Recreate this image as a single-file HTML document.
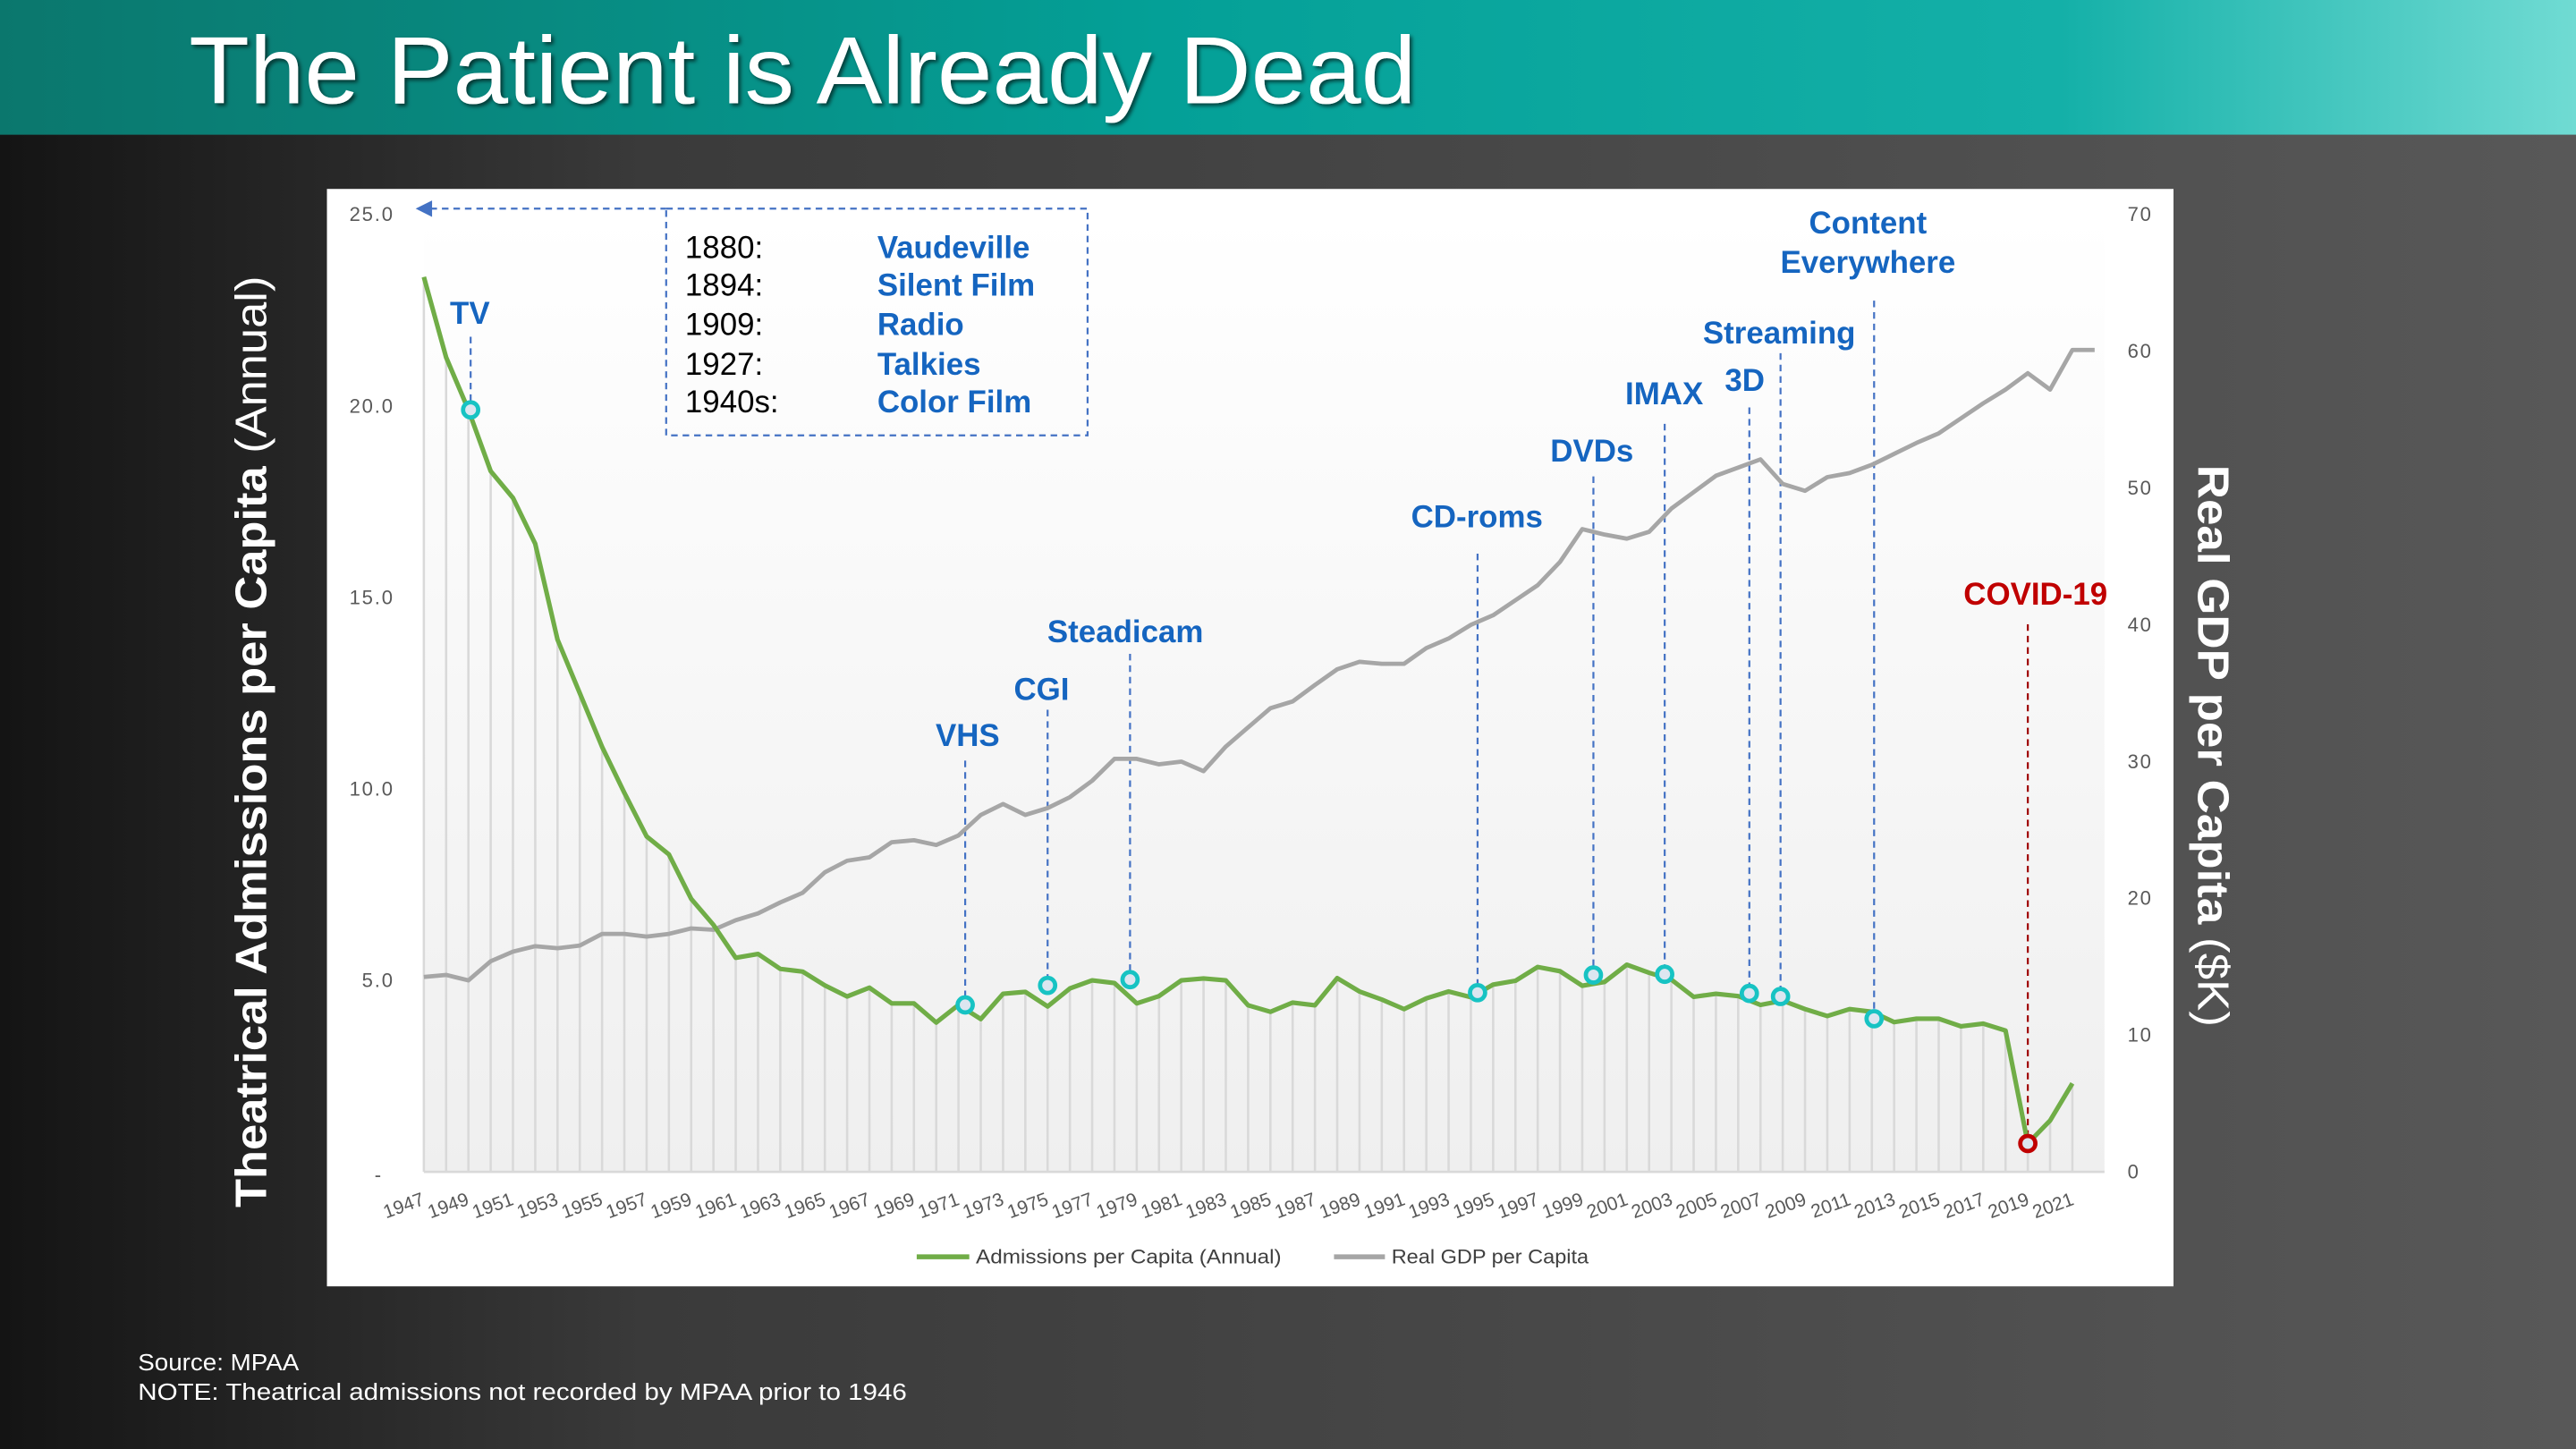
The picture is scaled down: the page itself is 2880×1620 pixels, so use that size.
<!DOCTYPE html>
<html><head><meta charset="utf-8"><style>
html,body{margin:0;padding:0;background:#333;}
svg{display:block;}
</style></head><body>
<svg id="chart" xmlns="http://www.w3.org/2000/svg" width="2880" height="1620" viewBox="0 0 1568 882" font-family="Liberation Sans, Arial, sans-serif">
<defs>
<linearGradient id="hdr" x1="0" x2="1" y1="0" y2="0">
<stop offset="0" stop-color="#0b776d"/><stop offset="0.45" stop-color="#04a097"/><stop offset="0.8" stop-color="#14b0a8"/><stop offset="1" stop-color="#70dbd3"/></linearGradient>
<linearGradient id="bg" x1="0" x2="1" y1="0" y2="0">
<stop offset="0" stop-color="#141414"/><stop offset="0.25" stop-color="#3a3a3a"/><stop offset="1" stop-color="#585858"/></linearGradient>
<linearGradient id="plotbg" x1="0" x2="0" y1="0" y2="1">
<stop offset="0" stop-color="#ffffff"/><stop offset="1" stop-color="#efefef"/></linearGradient>
<filter id="sh"><feDropShadow dx="1.5" dy="1.5" stdDeviation="1.2" flood-color="#000" flood-opacity="0.6"/></filter>
</defs>
<rect x="0" y="82" width="1568" height="800" fill="url(#bg)"/>
<rect x="0" y="0" width="1568" height="82" fill="url(#hdr)"/>
<text x="115" y="63" font-size="58" fill="#fff" filter="url(#sh)" textLength="747" lengthAdjust="spacingAndGlyphs">The Patient is Already Dead</text>

<rect x="199" y="115" width="1124" height="668" fill="#fff"/>
<rect x="258" y="130.6" width="1023" height="582.7" fill="url(#plotbg)"/>
<g id="grid"></g>
<line x1="258" y1="713.3" x2="1281" y2="713.3" stroke="#d9d9d9" stroke-width="1.5"/>
<g id="yLeft" font-size="12" fill="#595959" text-anchor="end" letter-spacing="1"></g>
<g id="yRight" font-size="12" fill="#595959" letter-spacing="1"></g>
<g id="xLabels" font-size="11.5" fill="#595959" text-anchor="end"></g>
<g id="annot"></g>
<g id="series"></g>
<g id="markers"></g>

<g>
<rect x="405.5" y="127" width="256.5" height="138" fill="none" stroke="#4472c4" stroke-width="1.2" stroke-dasharray="4 3"/>
<line x1="262" y1="127" x2="405.5" y2="127" stroke="#4472c4" stroke-width="1.2" stroke-dasharray="4 3"/>
<polygon points="253,127 263,122 263,132" fill="#4472c4"/>
<g font-size="19" fill="#000">
<text x="417" y="157">1880:</text><text x="417" y="180">1894:</text><text x="417" y="204">1909:</text><text x="417" y="228">1927:</text><text x="417" y="251">1940s:</text>
</g>
<g font-size="19" fill="#1565c0" font-weight="bold">
<text x="534" y="157">Vaudeville</text><text x="534" y="180">Silent Film</text><text x="534" y="204">Radio</text><text x="534" y="228">Talkies</text><text x="534" y="251">Color Film</text>
</g>
</g>

<g font-size="12" fill="#404040">
<line x1="558" y1="765" x2="590" y2="765" stroke="#70ad47" stroke-width="3"/>
<text x="594" y="769" textLength="186" lengthAdjust="spacingAndGlyphs">Admissions per Capita (Annual)</text>
<line x1="812" y1="765" x2="843" y2="765" stroke="#a6a6a6" stroke-width="3"/>
<text x="847" y="769" textLength="120" lengthAdjust="spacingAndGlyphs">Real GDP per Capita</text>
</g>

<text transform="translate(162,735) rotate(-90)" font-size="27" fill="#fff" textLength="567" lengthAdjust="spacingAndGlyphs"><tspan font-weight="bold">Theatrical Admissions per Capita</tspan> (Annual)</text>
<text transform="translate(1338,283) rotate(90)" font-size="27" fill="#fff" textLength="342" lengthAdjust="spacingAndGlyphs"><tspan font-weight="bold">Real GDP per Capita</tspan> ($K)</text>

<text x="84" y="834" font-size="14" fill="#fff" textLength="98" lengthAdjust="spacingAndGlyphs">Source: MPAA</text>
<text x="84" y="852" font-size="14" fill="#fff" textLength="468" lengthAdjust="spacingAndGlyphs">NOTE: Theatrical admissions not recorded by MPAA prior to 1946</text>
</svg>
<script>
const startYear = 1947;
const admissions = [23.37,21.27,19.9,18.3,17.6,16.4,13.9,12.5,11.1,9.9,8.76,8.29,7.13,6.45,5.59,5.69,5.30,5.23,4.87,4.58,4.81,4.40,4.40,3.90,4.36,3.99,4.65,4.70,4.32,4.79,5.00,4.93,4.40,4.59,5.0,5.05,5.0,4.35,4.18,4.42,4.35,5.06,4.71,4.50,4.25,4.53,4.71,4.56,4.89,4.99,5.35,5.24,4.86,4.96,5.41,5.20,5.02,4.57,4.65,4.59,4.36,4.47,4.25,4.07,4.25,4.18,3.91,4.0,4.0,3.80,3.87,3.69,0.74,1.34,2.31];
const gdp = [14.25,14.4,14.0,15.4,16.1,16.5,16.35,16.55,17.4,17.4,17.2,17.4,17.8,17.7,18.4,18.9,19.7,20.4,21.9,22.75,23.0,24.1,24.25,23.9,24.6,26.1,26.9,26.1,26.6,27.4,28.6,30.2,30.2,29.8,30.0,29.3,31.1,32.5,33.9,34.4,35.6,36.75,37.3,37.15,37.15,38.3,39.0,40.0,40.7,41.8,42.9,44.6,47.0,46.6,46.3,46.8,48.5,49.7,50.9,51.5,52.1,50.3,49.8,50.8,51.1,51.7,52.5,53.3,54.0,55.1,56.2,57.2,58.4,57.2,60.1,60.1];
const leftTicks = [5,10,15,20,25];
const leftTickLabels = ["5.0","10.0","15.0","20.0","25.0"];
const rightTicks = [0,10,20,30,40,50,60,70];
const xTickYears = [1947,1949,1951,1953,1955,1957,1959,1961,1963,1965,1967,1969,1971,1973,1975,1977,1979,1981,1983,1985,1987,1989,1991,1993,1995,1997,1999,2001,2003,2005,2007,2009,2011,2013,2015,2017,2019,2021];
const eventNames = ["TV","VHS","CGI","Steadicam","CD-roms","DVDs","IMAX","3D","Streaming","Content Everywhere","COVID-19"];
const eventYears = [1949.1,1971.3,1975.0,1978.7,1994.3,1999.5,2002.7,2006.5,2007.9,2012.1,2019];
const eventValues = [19.9,4.36,4.87,5.02,4.68,5.14,5.16,4.66,4.58,4.0,0.74];
const eventLabelX = [286,589,634,685,899,969,1013,1062,1083,1137,1239];
const eventLabelY = [197,454,426,391,321,281,246,238,209,142,368];
const eventLineTop = [205,463,432,398,337,290,258,248,215,183,380];

const NS="http://www.w3.org/2000/svg";
const X0=258, STEP=13.56, Y0=713.3, YT=130.6;
const x = yr => X0 + (yr-startYear)*STEP;
const yL = v => Y0 - v*(Y0-YT)/25;
const yR = v => Y0 - v*(Y0-YT)/70;
function mk(tag, attrs, parent){const e=document.createElementNS(NS,tag);for(const k in attrs)e.setAttribute(k,attrs[k]);parent.appendChild(e);return e;}

const grid=document.getElementById('grid');
admissions.forEach((v,i)=>{
  const l=mk('line',{x1:x(startYear+i),x2:x(startYear+i),y1:yL(v),y2:Y0,stroke:'#d9d9d9','stroke-width':1.4},grid);
  
  
});
const yl=document.getElementById('yLeft');
leftTicks.forEach((v,i)=>{
  const t=mk('text',{x:240,y:yL(v)+4},yl); t.textContent=leftTickLabels[i];
  
  
});
const z=mk('text',{x:233,y:Y0+6},yl); z.textContent='-';


const yr=document.getElementById('yRight');
rightTicks.forEach(v=>{
  const t=mk('text',{x:1295,y:yR(v)+4},yr); t.textContent=String(v);
  
  
});
const xl=document.getElementById('xLabels');
xTickYears.forEach((yy,i)=>{
  const px = X0 + i*(1262-X0)/(xTickYears.length-1);
  const t=mk('text',{transform:`translate(${px+1},733) rotate(-20)`},xl); t.textContent=String(yy);
  
  
});
const an=document.getElementById('annot');
eventNames.forEach((n,i)=>{
  const red = n==='COVID-19';
  const ln=mk('line',{x1:x(eventYears[i]),x2:x(eventYears[i]),y1:eventLineTop[i],y2:yL(eventValues[i]),stroke:red?'#a00000':'#4472c4','stroke-width':1.2,'stroke-dasharray':'4 3'},an);
  
  
  if(n==='Content Everywhere'){
    const t=mk('text',{x:eventLabelX[i],y:eventLabelY[i],'text-anchor':'middle','font-size':19,'font-weight':'bold',fill:'#1565c0'},an);
    t.textContent='Content';
    
    
    const t2=mk('text',{x:eventLabelX[i],y:eventLabelY[i]+24,'text-anchor':'middle','font-size':19,'font-weight':'bold',fill:'#1565c0'},an);
    t2.textContent='Everywhere';
    
    
  } else {
    const t=mk('text',{x:eventLabelX[i],y:eventLabelY[i],'text-anchor':'middle','font-size':19,'font-weight':'bold',fill:red?'#c00000':'#1565c0'},an);
    t.textContent=n;
    
    
  }
});
const se=document.getElementById('series');
const gp=mk('polyline',{points:gdp.map((v,i)=>x(startYear+i)+','+yR(v)).join(' '),fill:'none',stroke:'#a6a6a6','stroke-width':2.6,'stroke-linejoin':'round'},se);


const ap=mk('polyline',{points:admissions.map((v,i)=>x(startYear+i)+','+yL(v)).join(' '),fill:'none',stroke:'#70ad47','stroke-width':2.8,'stroke-linejoin':'round'},se);


const mg=document.getElementById('markers');
eventNames.forEach((n,i)=>{
  const red = n==='COVID-19';
  const c=mk('circle',{cx:x(eventYears[i]),cy:yL(eventValues[i]),r:4.6,fill:'#dce6f0',stroke:red?'#c00000':'#17c3c3','stroke-width':2.6},mg);
  
  
});
</script>
</body></html>
